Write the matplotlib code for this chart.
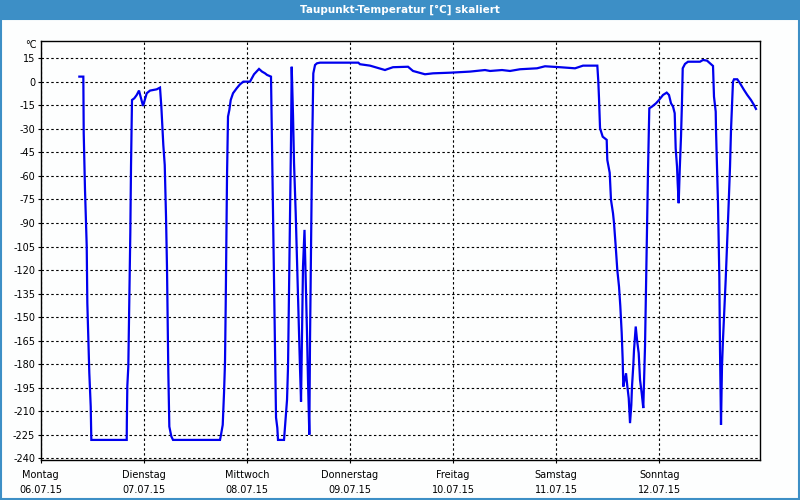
import matplotlib
matplotlib.use('Agg')
import matplotlib.pyplot as plt
from matplotlib.patches import Rectangle


# Taupunkt-Temperatur data, time in hours since Montag 00:00
hours = [8.99, 9.92, 10.01, 10.31, 10.71, 10.85, 11.08, 11.31, 11.64, 11.78,
         20.02, 20.05, 20.16, 20.39, 20.63, 20.86, 21.02, 21.25, 21.79, 22.35,
         22.88, 23.82, 24.68, 25.45, 27.0, 27.77, 28.08, 28.31, 28.54, 28.87,
         29.17, 29.40, 29.57, 29.71, 29.94, 30.40, 30.80, 41.74, 41.97, 42.37,
         42.67, 42.90, 43.07, 43.21, 43.37, 43.60, 43.91, 44.23, 44.77, 45.63,
         46.40, 47.17, 48.72, 49.66, 50.82, 51.52, 52.22, 52.68, 53.61, 53.85,
         54.08, 54.31, 54.54, 54.78, 55.08, 55.24, 56.64, 56.87, 57.34, 57.57,
         57.80, 58.04, 58.27, 58.43, 58.74, 58.97, 59.36, 59.67, 59.90, 60.13,
         60.36, 60.60, 60.83, 61.06, 61.41, 61.69, 61.99, 62.23, 62.53, 62.69,
         62.92, 63.16, 63.46, 63.86, 64.32, 65.02, 73.94, 74.33, 76.66, 80.15,
         80.62, 82.01, 85.51, 86.67, 89.46, 91.33, 95.29, 99.94, 103.43, 104.60,
         107.39, 109.25, 111.58, 115.54, 117.40, 120.89, 124.39, 126.25, 129.58, 129.81,
         129.97, 130.21, 130.83, 131.76, 131.90, 132.46, 132.76, 133.23, 133.46, 133.86,
         134.23, 134.63, 134.93, 135.25, 135.48, 135.63, 135.79, 136.26, 136.56, 136.89,
         137.19, 137.49, 137.65, 137.96, 138.12, 138.52, 138.82, 139.21, 139.52, 139.91,
         140.28, 140.52, 140.68, 140.91, 141.15, 141.38, 141.68, 142.31, 143.24, 143.94,
         144.87, 145.73, 146.26, 146.73, 147.20, 147.59, 147.82, 148.13, 148.29, 148.52,
         148.76, 149.06, 149.29, 149.46, 149.99, 150.69, 153.48, 154.18, 155.11, 155.81,
         156.51, 156.74, 157.14, 157.21, 157.67, 157.98, 158.14, 158.37, 158.60, 158.83,
         159.07, 159.46, 159.83, 160.16, 160.47, 160.70, 160.93, 161.16, 161.40, 162.16,
         162.79, 163.73, 164.49, 165.35, 166.05, 166.52]
taupunkt = [3.3, 3.3, -32.8, -69, -105, -141, -163, -185.6, -207, -228.3,
            -228.3, -217, -194, -181.6, -139, -96, -54, -11.6, -10.5, -8.4,
            -5.6, -15.4, -7.3, -5.6, -4.8, -3.7, -15.8, -28.6, -40.3, -53,
            -86, -118.8, -152.9, -185.8, -219.8, -226, -228.3, -228.3, -225, -218.7,
            -198.6, -179, -141, -100.8, -60.5, -22.2, -18, -11.6, -7.3, -4.1,
            -1.6, 0.1, 0.1, 4.8, 8.2, 6.5, 5.4, 4.4, 3.3, -40,
            -83.7, -126.3, -171, -214, -220.6, -228.3, -228.3, -219.8, -202.8, -182,
            -134.7, -86, -37, 9.6, -22, -51.7, -83.7, -114.6, -137, -160,
            -182.4, -203.9, -160, -117.8, -94.4, -126.3, -160, -191, -225, -165.6,
            -107, -47.7, 5.4, 10.7, 11.8, 12.2, 12.2, 11.2, 10.3, 7.5,
            8, 9.3, 9.6, 6.9, 4.8, 5.4, 5.8, 6.5, 7.5, 6.9,
            7.5, 6.9, 8, 8.6, 9.9, 9.3, 8.6, 10.3, 10.3, 0.1,
            -10.5, -29.6, -35, -37, -49.8, -58, -75.3, -83.8, -90, -105,
            -120, -130.6, -143, -160, -177, -194.3, -192, -185.8, -194, -201.7,
            -217.6, -206, -194.3, -180.5, -171, -156, -164.5, -173, -190, -198.5,
            -208, -185.8, -168.8, -132.7, -94.4, -56.2, -16.9, -15.8, -13.7, -11.6,
            -8.4, -6.9, -8.4, -13.7, -15.8, -20, -42.4, -54, -64.7, -77.4,
            -56.2, -35, -12.6, 8.6, 11.4, 12.8, 12.8, 13.9, 13.5, 11.8,
            10.1, -9.5, -19, -30.7, -77.4, -124.2, -171, -218.7, -181.6, -164.5,
            -149.7, -126.3, -100.8, -77.4, -54, -30.7, -14.8, 0.1, 1.6, 1.6,
            -0.9, -5.2, -8.4, -11.6, -14.8, -17.3]

day_names = ['Montag', 'Dienstag', 'Mittwoch', 'Donnerstag', 'Freitag', 'Samstag', 'Sonntag']
day_dates = ['06.07.15', '07.07.15', '08.07.15', '09.07.15', '10.07.15', '11.07.15', '12.07.15']
y_ticks = list(range(15, -241, -15))

title = 'Taupunkt-Temperatur [°C] skaliert'
bar_color = '#3d8fc6'

fig = plt.figure(figsize=(8, 5), dpi=100)
fig.patch.set_facecolor('#fdfefe')

# title bar and thin frame round the window
fig.patches.append(Rectangle((0, 0.96), 1, 0.04, transform=fig.transFigure,
                             facecolor=bar_color, edgecolor='none', zorder=0))
fig.patches.append(Rectangle((0.0012, 0.002), 0.9976, 0.96, transform=fig.transFigure,
                             facecolor='none', edgecolor=bar_color, lw=1.5, zorder=0))
fig.text(0.5, 0.98, title, color='white', fontsize=7.5, fontweight='bold',
         ha='center', va='center')

ax = fig.add_axes([0.0509, 0.08, 0.8991, 0.8386])
ax.set_facecolor('#fdfefe')
ax.plot(hours, taupunkt, color='#0000ee', lw=1.6, solid_joinstyle='miter')

ax.set_xlim(0, 167.45)
ax.set_ylim(-241.1, 26.2)

ax.set_yticks(y_ticks)
ax.set_yticklabels([str(v) for v in y_ticks])
ax.set_xticks([24 * i for i in range(len(day_names))])
ax.set_xticklabels([n + '\n' + d for n, d in zip(day_names, day_dates)], linespacing=1.55)

ax.tick_params(axis='both', labelsize=7, length=2.5, width=0.8, direction='out', color='black')
ax.tick_params(axis='y', pad=1.5)
ax.tick_params(axis='x', pad=5)

ax.grid(True, color='black', linestyle=(0, (2.2, 2.2)), lw=0.8)
ax.set_axisbelow(True)
for s in ax.spines.values():
    s.set_linewidth(1.0)
    s.set_color('black')

ax.text(-0.006, 1.0 - (45.5 - 40.7) / 419.3, '°C', transform=ax.transAxes,
        fontsize=7, ha='right', va='center')

fig.savefig('out.png', dpi=100, facecolor=fig.get_facecolor())
